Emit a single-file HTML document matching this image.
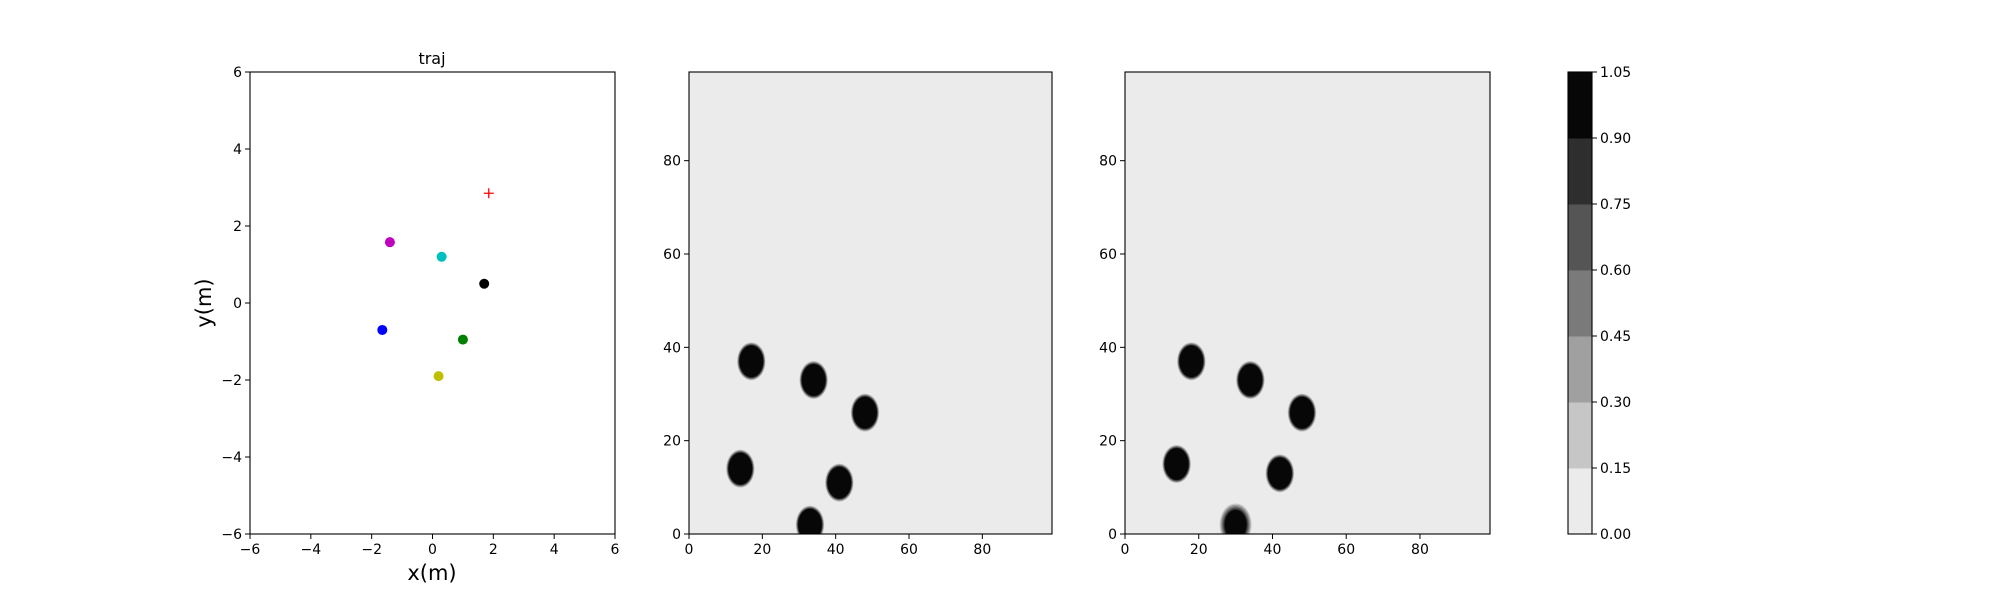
<!DOCTYPE html>
<html><head><meta charset="utf-8">
<style>
html,body{margin:0;padding:0;background:#fff;}
svg{display:block;font-family:"DejaVu Sans","Liberation Sans",sans-serif;}
</style></head>
<body>
<svg id="fig" width="2000" height="600" viewBox="0 0 2000 600" xmlns="http://www.w3.org/2000/svg"></svg>
<script>
// ---- data ----
const trajX = [-1.4, 0.3, 1.7, -1.65, 1.0, 0.2];
const trajY = [1.58, 1.2, 0.5, -0.7, -0.95, -1.9];
const trajColors = ['#bf00bf','#00bfbf','#000000','#0000ff','#008000','#bfbf00'];
const goalX = [1.85];
const goalY = [2.85];
const trajTicks = [-6,-4,-2,0,2,4,6];
const gridTicks = [0,20,40,60,80];
const mapAX = [17, 34, 48, 14, 41, 33];
const mapAY = [37, 33, 26, 14, 11, 2];
const mapAPeak = [1.0, 1.0, 1.0, 1.0, 1.0, 1.0];
const mapBX = [18, 34, 48, 14, 42, 30];
const mapBY = [37, 33, 26, 15, 13, 2];
const mapBPeak = [1.0, 1.0, 1.0, 1.0, 1.0, 0.95];
const levels = [0, 0.15, 0.30, 0.45, 0.60, 0.75, 0.90, 1.05];
const levelColors = ['#ebebeb','#c6c6c6','#a0a0a0','#7a7a7a','#555555','#2e2e2e','#070707'];
const cbLabels = ['0.00','0.15','0.30','0.45','0.60','0.75','0.90','1.05'];

const NS='http://www.w3.org/2000/svg';
const svg=document.getElementById('fig');
function mk(tag,attrs,parent){const e=document.createElementNS(NS,tag);for(const k in attrs)e.setAttribute(k,attrs[k]);(parent||svg).appendChild(e);return e;}
const TOP=72,BOT=534;
function axes(x0,x1,xmin,xmax,ymin,ymax,name,bg){
  const g=mk('g',{});
  
  
  const sx=v=>x0+(v-xmin)/(xmax-xmin)*(x1-x0);
  const sy=v=>BOT-(v-ymin)/(ymax-ymin)*(BOT-TOP);
  const r=mk('rect',{x:x0,y:TOP,width:x1-x0,height:BOT-TOP,fill:bg},g);
  
  
  return {g,sx,sy,x0,x1};
}
function frameTicks(ax,xt,yt,name){
  const g=ax.g;
  mk('rect',{x:ax.x0,y:TOP,width:ax.x1-ax.x0,height:BOT-TOP,fill:'none',stroke:'#000','stroke-width':1.1},g);
  xt.forEach(t=>{const x=ax.sx(t);
    mk('line',{x1:x,y1:BOT,x2:x,y2:BOT+5,stroke:'#000'},g);
    const tx=mk('text',{x:x,y:BOT+20,'font-size':14,'text-anchor':'middle'},g);
    tx.textContent=(t<0?'\u2212'+(-t):t);
    
    });
  yt.forEach(t=>{const y=ax.sy(t);
    mk('line',{x1:ax.x0-5,y1:y,x2:ax.x0,y2:y,stroke:'#000'},g);
    const tx=mk('text',{x:ax.x0-8,y:y+5,'font-size':14,'text-anchor':'end'},g);
    tx.textContent=(t<0?'\u2212'+(-t):t);
    
    });
}
// panel 1
const a1=axes(250,615,-6,6,-6,6,'traj-axes','#fff');
trajX.forEach((v,i)=>{const c=mk('circle',{cx:a1.sx(v),cy:a1.sy(trajY[i]),r:5,fill:trajColors[i]},a1.g);
  
  });
goalX.forEach((v,i)=>{const x=a1.sx(v),y=a1.sy(goalY[i]);
  const p=mk('path',{d:`M${x-5},${y}H${x+5}M${x},${y-5}V${y+5}`,stroke:'#ff0000','stroke-width':1.3},a1.g);
  
  });
frameTicks(a1,trajTicks,trajTicks,'traj');
let t=mk('text',{x:432,y:64,'font-size':16,'text-anchor':'middle'});t.textContent='traj';

t=mk('text',{x:432,y:580,'font-size':21,'text-anchor':'middle'});t.textContent='x(m)';

t=mk('text',{x:0,y:0,'font-size':21,'text-anchor':'middle',transform:'translate(211,303) rotate(-90)'});t.textContent='y(m)';


// maps
function mapPanel(x0,x1,xs,ys,pk,name){
  const ax=axes(x0,x1,0,99,0,99,name,levelColors[0]);
  const cid='clip-'+name;
  const cp=mk('clipPath',{id:cid},ax.g);mk('rect',{x:x0,y:TOP,width:x1-x0,height:BOT-TOP},cp);
  const bg=mk('g',{'clip-path':`url(#${cid})`},ax.g);
  const R=4.0;
  xs.forEach((v,i)=>{
    const b=mk('g',{},bg);
    
    
    const soft=pk[i]<1?1.0:0.0;
    for(let k=1;k<levelColors.length;k++){
      if(levels[k]>1.0)break;
      const f=1-(levels[k]/1.05)*(0.22+soft*0.25)+soft*0.15;
      const rx=Math.abs(ax.sx(v+R*f)-ax.sx(v)),ry=Math.abs(ax.sy(ys[i]+R*1.05*f)-ax.sy(ys[i]));
      mk('ellipse',{cx:ax.sx(v),cy:ax.sy(ys[i]),rx:rx,ry:ry,fill:levelColors[k]},b);
    }
  });
  frameTicks(ax,gridTicks,gridTicks,name);
}
mapPanel(689,1052,mapAX,mapAY,mapAPeak,'map-a');
mapPanel(1125,1490,mapBX,mapBY,mapBPeak,'map-b');

// colorbar
const cb=mk('g',{});
const cx0=1568,cx1=1592;const cy=v=>BOT-(v-levels[0])/(levels[levels.length-1]-levels[0])*(BOT-TOP);
levelColors.forEach((c,i)=>{const r=mk('rect',{x:cx0,y:cy(levels[i+1]),width:cx1-cx0,height:cy(levels[i])-cy(levels[i+1])+0.5,fill:c},cb);
  });
mk('rect',{x:cx0,y:TOP,width:cx1-cx0,height:BOT-TOP,fill:'none',stroke:'#000','stroke-width':1.1},cb);
levels.forEach((v,i)=>{const y=cy(v);mk('line',{x1:cx1,y1:y,x2:cx1+5,y2:y,stroke:'#000'},cb);
  const tx=mk('text',{x:cx1+8,y:y+5,'font-size':14},cb);tx.textContent=cbLabels[i];
  });
</script>
</body></html>
